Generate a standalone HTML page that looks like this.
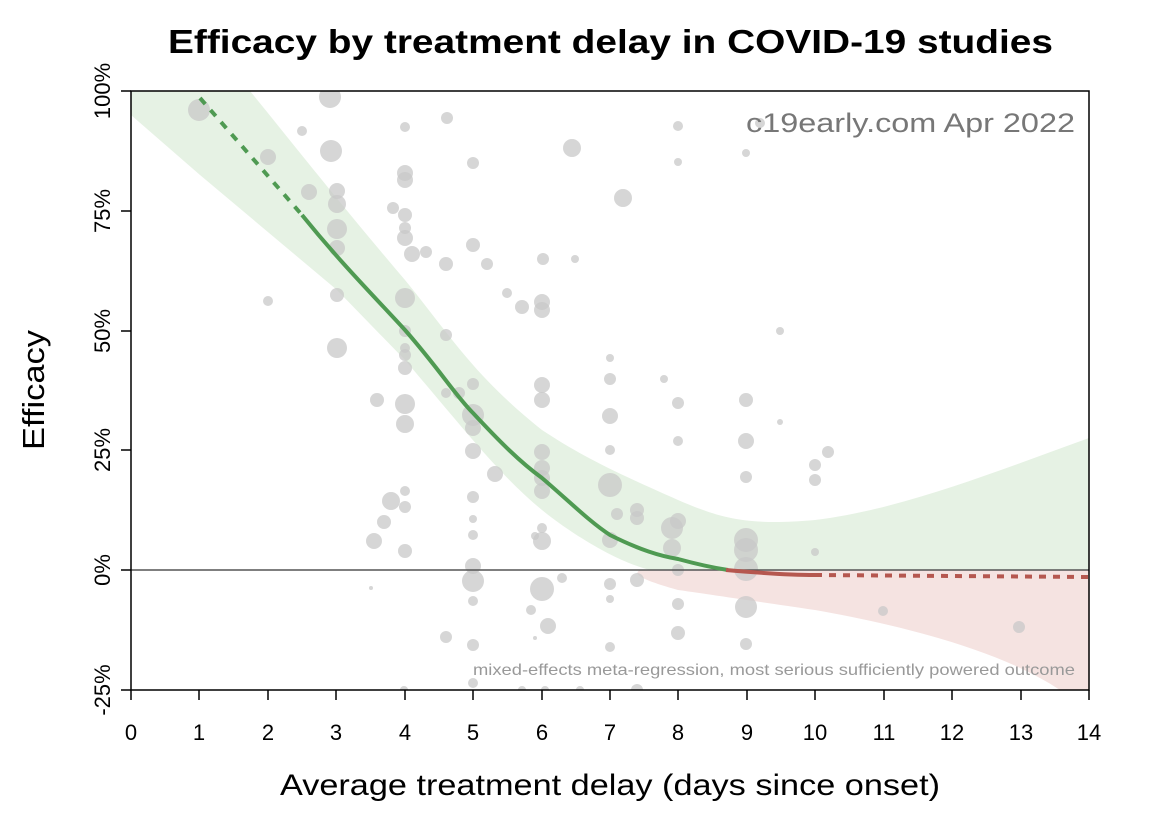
<!DOCTYPE html>
<html><head><meta charset="utf-8"><style>body{margin:0;background:#fff}svg{display:block}text{font-family:"Liberation Sans",sans-serif}</style></head><body>
<svg width="1150" height="818" xmlns="http://www.w3.org/2000/svg">
<rect width="1150" height="818" fill="#fff"/>
<defs><clipPath id="c"><rect x="131" y="91" width="958" height="599"/></clipPath></defs>
<g clip-path="url(#c)">
<path d="M131,91 L250,91 C290,140 337,200 405,280 C450,335 473,375 542,430 C580,455 610,470 678,500 C720,518 746,526 815,520 C900,510 1000,470 1089,438 L1089,570 L650,570 C610,560 560,525 542,510 C500,475 473,440 405,360 L337,290 L200,175 L131,115 Z" fill="#e6f2e4"/>
<path d="M640,570 L1089,570 L1089,690 L1060,690 C1000,650 900,625 815,610 C746,600 700,593 678,590 C650,582 630,575 640,570 Z" fill="#f5e3e1"/>
<g fill="#c8c8c8" fill-opacity="0.75">
<circle cx="199" cy="110" r="11"/><circle cx="330" cy="97" r="11"/><circle cx="302" cy="131" r="5"/><circle cx="405" cy="127" r="5"/><circle cx="447" cy="118" r="6"/><circle cx="268" cy="157" r="8"/><circle cx="331" cy="151" r="11"/><circle cx="473" cy="163" r="6"/><circle cx="572" cy="148" r="9"/><circle cx="678" cy="126" r="5"/><circle cx="678" cy="162" r="4"/><circle cx="746" cy="153" r="4"/><circle cx="760" cy="123" r="5"/>
<circle cx="309" cy="192" r="8"/><circle cx="337" cy="191" r="8"/><circle cx="337" cy="204" r="9"/><circle cx="337" cy="229" r="10"/><circle cx="405" cy="173" r="8"/><circle cx="405" cy="180" r="8"/><circle cx="623" cy="198" r="9"/>
<circle cx="393" cy="208" r="6"/><circle cx="405" cy="215" r="7"/><circle cx="405" cy="228" r="6"/><circle cx="405" cy="238" r="8"/><circle cx="412" cy="254" r="8"/><circle cx="426" cy="252" r="6"/><circle cx="446" cy="264" r="7"/><circle cx="473" cy="245" r="7"/><circle cx="487" cy="264" r="6"/><circle cx="543" cy="259" r="6"/><circle cx="575" cy="259" r="4"/><circle cx="337" cy="248" r="8"/><circle cx="268" cy="301" r="5"/><circle cx="337" cy="295" r="7"/><circle cx="405" cy="298" r="10"/><circle cx="507" cy="293" r="5"/><circle cx="522" cy="307" r="7"/><circle cx="542" cy="302" r="8"/><circle cx="542" cy="310" r="8"/><circle cx="337" cy="348" r="10"/><circle cx="446" cy="335" r="6"/><circle cx="405" cy="331" r="6"/>
<circle cx="405" cy="348" r="5"/><circle cx="405" cy="355" r="6"/><circle cx="405" cy="368" r="7"/><circle cx="377" cy="400" r="7"/><circle cx="405" cy="404" r="10"/><circle cx="405" cy="424" r="9"/><circle cx="446" cy="393" r="5"/><circle cx="473" cy="384" r="6"/><circle cx="459" cy="393" r="6"/><circle cx="473" cy="415" r="11"/><circle cx="473" cy="428" r="8"/><circle cx="473" cy="451" r="8"/><circle cx="495" cy="474" r="8"/><circle cx="542" cy="385" r="8"/><circle cx="542" cy="400" r="8"/><circle cx="542" cy="452" r="8"/><circle cx="542" cy="468" r="8"/><circle cx="542" cy="478" r="8"/><circle cx="542" cy="491" r="8"/><circle cx="610" cy="358" r="4"/><circle cx="610" cy="379" r="6"/><circle cx="610" cy="416" r="8"/><circle cx="610" cy="450" r="5"/><circle cx="610" cy="485" r="12"/><circle cx="610" cy="540" r="8"/><circle cx="617" cy="514" r="6"/><circle cx="637" cy="510" r="7"/><circle cx="637" cy="518" r="7"/><circle cx="664" cy="379" r="4"/><circle cx="678" cy="403" r="6"/><circle cx="678" cy="441" r="5"/><circle cx="672" cy="528" r="11"/><circle cx="672" cy="548" r="9"/><circle cx="678" cy="521" r="8"/><circle cx="746" cy="400" r="7"/><circle cx="746" cy="441" r="8"/><circle cx="746" cy="477" r="6"/><circle cx="746" cy="540" r="12"/><circle cx="746" cy="550" r="12"/><circle cx="746" cy="569" r="12"/><circle cx="746" cy="607" r="11"/><circle cx="746" cy="644" r="6"/><circle cx="780" cy="331" r="4"/><circle cx="780" cy="422" r="3"/><circle cx="815" cy="465" r="6"/><circle cx="815" cy="480" r="6"/><circle cx="828" cy="452" r="6"/><circle cx="815" cy="552" r="4"/>
<circle cx="371" cy="588" r="2"/><circle cx="384" cy="522" r="7"/><circle cx="391" cy="501" r="9"/><circle cx="405" cy="491" r="5"/><circle cx="405" cy="507" r="6"/><circle cx="374" cy="541" r="8"/><circle cx="405" cy="551" r="7"/><circle cx="473" cy="497" r="6"/><circle cx="473" cy="519" r="4"/><circle cx="473" cy="535" r="5"/><circle cx="473" cy="566" r="8"/><circle cx="473" cy="581" r="11"/><circle cx="473" cy="601" r="5"/><circle cx="473" cy="645" r="6"/><circle cx="446" cy="637" r="6"/><circle cx="473" cy="683" r="5"/><circle cx="535" cy="536" r="4"/><circle cx="542" cy="528" r="5"/><circle cx="542" cy="541" r="9"/><circle cx="542" cy="589" r="12"/><circle cx="531" cy="610" r="5"/><circle cx="548" cy="626" r="8"/><circle cx="535" cy="638" r="2"/><circle cx="562" cy="578" r="5"/><circle cx="610" cy="584" r="6"/><circle cx="610" cy="599" r="4"/><circle cx="637" cy="580" r="7"/><circle cx="678" cy="570" r="6"/><circle cx="678" cy="604" r="6"/><circle cx="678" cy="633" r="7"/><circle cx="610" cy="647" r="5"/><circle cx="883" cy="611" r="5"/><circle cx="1019" cy="627" r="6"/><circle cx="404" cy="690" r="4"/><circle cx="522" cy="690" r="4"/><circle cx="545" cy="690" r="4"/><circle cx="580" cy="690" r="4"/><circle cx="637" cy="690" r="6"/>
</g>
<line x1="131" y1="570" x2="1089" y2="570" stroke="#555" stroke-width="1.5"/>
<path d="M200,98 L302,215" stroke="#4f9a52" stroke-width="4" stroke-dasharray="8,8" fill="none"/>
<path d="M302,215 C340,262 370,292 405,330 C440,370 455,395 473,413 C500,442 520,462 542,478 C570,502 590,522 610,535 C640,550 660,556 678,559 C700,565 715,568 728,570" stroke="#4f9a52" stroke-width="4" fill="none"/>
<path d="M726,570 C760,573 790,575 815,575" stroke="#b5574f" stroke-width="4" fill="none"/>
<path d="M815,575 L1089,577" stroke="#b5574f" stroke-width="4" stroke-dasharray="7,7" fill="none"/>
</g>
<rect x="131" y="91" width="958" height="599" fill="none" stroke="#000" stroke-width="1.5"/>
<text x="168" y="53" font-size="33" font-weight="bold" textLength="885" lengthAdjust="spacingAndGlyphs">Efficacy by treatment delay in COVID-19 studies</text>
<text x="746" y="132" font-size="27" fill="#777" textLength="329" lengthAdjust="spacingAndGlyphs">c19early.com Apr 2022</text>
<text x="473" y="675" font-size="16" fill="#999" textLength="602" lengthAdjust="spacingAndGlyphs">mixed-effects meta-regression, most serious sufficiently powered outcome</text>
<g stroke="#000" stroke-width="1.5">
<line x1="131" y1="690" x2="131" y2="700"/><line x1="199" y1="690" x2="199" y2="700"/><line x1="268" y1="690" x2="268" y2="700"/><line x1="336" y1="690" x2="336" y2="700"/><line x1="405" y1="690" x2="405" y2="700"/><line x1="473" y1="690" x2="473" y2="700"/><line x1="542" y1="690" x2="542" y2="700"/><line x1="610" y1="690" x2="610" y2="700"/><line x1="678" y1="690" x2="678" y2="700"/><line x1="747" y1="690" x2="747" y2="700"/><line x1="815" y1="690" x2="815" y2="700"/><line x1="884" y1="690" x2="884" y2="700"/><line x1="952" y1="690" x2="952" y2="700"/><line x1="1021" y1="690" x2="1021" y2="700"/><line x1="1089" y1="690" x2="1089" y2="700"/>
<line x1="121" y1="91" x2="131" y2="91"/><line x1="121" y1="211" x2="131" y2="211"/><line x1="121" y1="331" x2="131" y2="331"/><line x1="121" y1="450" x2="131" y2="450"/><line x1="121" y1="570" x2="131" y2="570"/><line x1="121" y1="690" x2="131" y2="690"/>
</g>
<g font-size="22" text-anchor="middle">
<text x="131" y="740">0</text><text x="199" y="740">1</text><text x="268" y="740">2</text><text x="336" y="740">3</text><text x="405" y="740">4</text><text x="473" y="740">5</text><text x="542" y="740">6</text><text x="610" y="740">7</text><text x="678" y="740">8</text><text x="747" y="740">9</text><text x="815" y="740">10</text><text x="884" y="740">11</text><text x="952" y="740">12</text><text x="1021" y="740">13</text><text x="1089" y="740">14</text>
<text transform="translate(110,91) rotate(-90)">100%</text>
<text transform="translate(110,211) rotate(-90)">75%</text>
<text transform="translate(110,331) rotate(-90)">50%</text>
<text transform="translate(110,450) rotate(-90)">25%</text>
<text transform="translate(110,570) rotate(-90)">0%</text>
<text transform="translate(110,690) rotate(-90)">-25%</text>
</g>
<text x="280" y="795" font-size="30" textLength="660" lengthAdjust="spacingAndGlyphs">Average treatment delay (days since onset)</text>
<text transform="translate(44,450) rotate(-90)" font-size="31" textLength="120" lengthAdjust="spacingAndGlyphs">Efficacy</text>
</svg>
</body></html>
